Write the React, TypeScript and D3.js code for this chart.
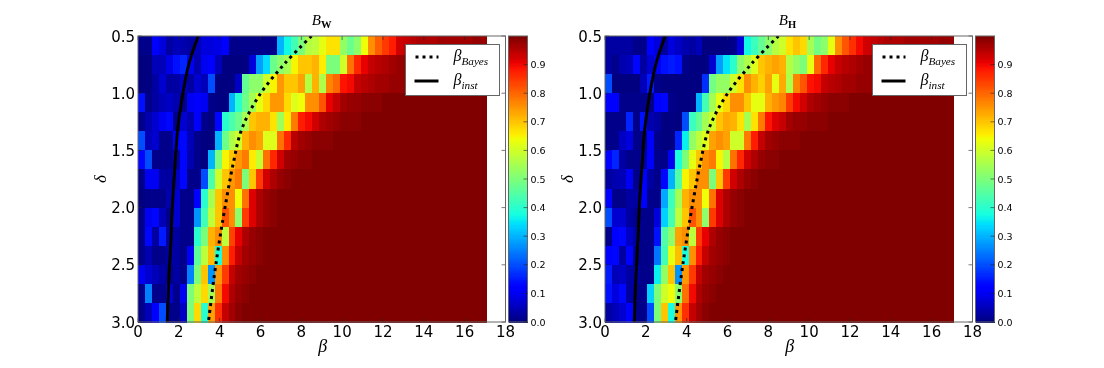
import React, { useEffect, useRef } from "react";
import * as d3 from "d3";

// cell values in percent, top row (delta = 0.5) first, 50 columns per row
const rowsW: number[][] = [
  [1,1,11,8,3,5,4,3,5,8, 8,9,12,1,1,1,1,1,1,1, 30,37,43,50,57,58,63,67,67,53, 48,52,64,76,81,85,88,93,94,95, 96,96,96,97,97,97,97,97,98,98],
  [0,0,5,5,9,14,16,10,4,10, 12,5,0,0,0,0,8,28,34,48, 52,55,65,70,70,72,66,50,50,60, 79,87,91,94,95,96,97,98,98,98, 99,99,99,99,99,99,100,100,100,100],
  [0,0,3,7,3,3,6,3,7,5, 20,0,0,0,6,47,52,52,60,65, 75,70,70,74,57,72,56,77,80,89, 90,94,95,96,97,97,98,98,98,99, 99,99,100,100,100,100,100,100,100,100],
  [14,1,3,5,6,4,1,10,11,10, 1,0,0,30,40,48,55,63,68,75, 75,68,62,64,76,76,82,91,94,97, 98,98,99,99,99,100,100,100,100,100, 100,100,100,100,100,100,100,100,100,100],
  [1,4,7,10,13,1,7,4,11,1, 0,13,40,44,48,55,70,72,72,67, 54,66,78,88,90,93,96,97,98,99, 99,99,100,100,100,100,100,100,100,100, 100,100,100,100,100,100,100,100,100,100],
  [20,5,7,1,1,11,13,5,1,0, 0,30,48,56,60,72,76,74,62,62, 79,87,95,97,98,99,99,99,100,100, 100,100,100,100,100,100,100,100,100,100, 100,100,100,100,100,100,100,100,100,100],
  [13,20,1,1,1,3,13,4,1,0, 30,50,65,70,75,78,66,59,79,87, 93,97,98,99,99,100,100,100,100,100, 100,100,100,100,100,100,100,100,100,100, 100,100,100,100,100,100,100,100,100,100],
  [1,10,10,3,3,6,13,1,1,20, 44,60,70,75,78,50,70,85,93,96, 98,99,100,100,100,100,100,100,100,100, 100,100,100,100,100,100,100,100,100,100, 100,100,100,100,100,100,100,100,100,100],
  [0,1,1,1,4,7,1,1,12,40, 55,70,76,76,64,79,92,96,98,99, 100,100,100,100,100,100,100,100,100,100, 100,100,100,100,100,100,100,100,100,100, 100,100,100,100,100,100,100,100,100,100],
  [1,10,13,5,1,7,1,1,27,43, 58,70,82,76,52,85,92,96,98,99, 100,100,100,100,100,100,100,100,100,100, 100,100,100,100,100,100,100,100,100,100, 100,100,100,100,100,100,100,100,100,100],
  [1,13,3,15,3,3,1,1,40,50, 72,76,58,84,91,96,98,99,100,100, 100,100,100,100,100,100,100,100,100,100, 100,100,100,100,100,100,100,100,100,100, 100,100,100,100,100,100,100,100,100,100],
  [1,4,1,1,3,3,1,10,46,58, 71,38,76,88,94,97,98,99,100,100, 100,100,100,100,100,100,100,100,100,100, 100,100,100,100,100,100,100,100,100,100, 100,100,100,100,100,100,100,100,100,100],
  [10,7,5,3,1,3,1,25,50,70, 27,75,85,94,97,98,99,100,100,100, 100,100,100,100,100,100,100,100,100,100, 100,100,100,100,100,100,100,100,100,100, 100,100,100,100,100,100,100,100,100,100],
  [1,25,1,1,7,1,10,50,58,68, 55,78,90,96,98,99,100,100,100,100, 100,100,100,100,100,100,100,100,100,100, 100,100,100,100,100,100,100,100,100,100, 100,100,100,100,100,100,100,100,100,100],
  [1,5,11,20,1,1,6,50,68,40, 74,86,94,97,99,100,100,100,100,100, 100,100,100,100,100,100,100,100,100,100, 100,100,100,100,100,100,100,100,100,100, 100,100,100,100,100,100,100,100,100,100],
];

const rowsH: number[][] = [
  [3,3,3,3,1,1,11,8,3,8, 6,4,3,5,0,0,0,0,1,8, 37,42,47,52,57,60,67,70,68,55, 49,52,63,76,82,86,90,93,94,95, 96,96,96,97,97,97,97,97,98,98],
  [3,1,4,5,13,3,7,10,14,15, 14,1,0,0,0,7,28,35,40,52, 56,62,70,72,74,72,57,53,50,63, 80,87,91,94,95,96,97,98,98,98, 99,99,99,99,99,99,100,100,100,100],
  [20,0,0,0,0,5,15,1,0,0, 0,0,0,0,17,49,53,53,60,67, 76,72,69,74,63,73,56,77,82,89, 90,94,95,96,97,97,98,98,98,99, 99,99,100,100,100,100,100,100,100,100],
  [11,11,1,1,1,1,1,11,13,1, 0,0,0,30,43,55,63,68,76,76, 70,63,63,72,75,77,85,90,93,96, 97,98,99,99,99,100,100,100,100,100, 100,100,100,100,100,100,100,100,100,100],
  [1,1,1,16,1,14,4,3,0,0, 0,20,42,47,55,60,70,73,72,67, 55,67,78,89,92,94,97,98,98,99, 99,99,100,100,100,100,100,100,100,100, 100,100,100,100,100,100,100,100,100,100],
  [1,1,6,8,1,1,12,1,0,0, 16,36,53,58,62,74,76,74,60,60, 78,88,94,97,98,99,99,99,100,100, 100,100,100,100,100,100,100,100,100,100, 100,100,100,100,100,100,100,100,100,100],
  [11,16,3,1,1,3,12,1,1,10, 38,50,63,70,76,78,65,57,79,87, 93,96,98,99,99,100,100,100,100,100, 100,100,100,100,100,100,100,100,100,100, 100,100,100,100,100,100,100,100,100,100],
  [3,4,5,10,1,11,3,1,13,30, 45,65,70,76,76,50,70,85,93,96, 98,99,100,100,100,100,100,100,100,100, 100,100,100,100,100,100,100,100,100,100, 100,100,100,100,100,100,100,100,100,100],
  [11,1,1,3,3,11,1,1,29,42, 55,72,76,76,64,79,92,96,98,99, 100,100,100,100,100,100,100,100,100,100, 100,100,100,100,100,100,100,100,100,100, 100,100,100,100,100,100,100,100,100,100],
  [20,7,7,3,1,1,1,8,33,43, 58,70,82,76,52,85,92,96,98,99, 100,100,100,100,100,100,100,100,100,100, 100,100,100,100,100,100,100,100,100,100, 100,100,100,100,100,100,100,100,100,100],
  [1,11,13,6,3,1,1,14,45,52, 74,76,58,85,91,96,98,99,100,100, 100,100,100,100,100,100,100,100,100,100, 100,100,100,100,100,100,100,100,100,100, 100,100,100,100,100,100,100,100,100,100],
  [12,13,3,11,1,1,1,24,43,63, 71,38,76,88,94,97,98,99,100,100, 100,100,100,100,100,100,100,100,100,100, 100,100,100,100,100,100,100,100,100,100, 100,100,100,100,100,100,100,100,100,100],
  [15,5,6,3,3,1,1,36,53,70, 27,75,85,94,97,98,99,100,100,100, 100,100,100,100,100,100,100,100,100,100, 100,100,100,100,100,100,100,100,100,100, 100,100,100,100,100,100,100,100,100,100],
  [14,8,13,3,1,1,33,50,60,64, 52,79,90,96,98,99,100,100,100,100, 100,100,100,100,100,100,100,100,100,100, 100,100,100,100,100,100,100,100,100,100, 100,100,100,100,100,100,100,100,100,100],
  [3,5,7,12,1,1,20,50,70,38, 75,86,94,97,99,100,100,100,100,100, 100,100,100,100,100,100,100,100,100,100, 100,100,100,100,100,100,100,100,100,100, 100,100,100,100,100,100,100,100,100,100],
];

// curves
const curveDelta = [0.5, 0.74, 1.03, 1.32, 1.61, 2.0, 2.3, 2.59, 3.0];
const betaInst = [2.95, 2.5, 2.17, 1.94, 1.82, 1.68, 1.61, 1.52, 1.43];
const bayesDelta = [0.5, 0.74, 1.03, 1.32, 1.61, 2.0, 2.3, 2.59, 3.0];
const betaBayes = [8.5, 7.19, 5.9, 5.07, 4.67, 4.26, 3.98, 3.74, 3.45];

const betaTicks = [0, 2, 4, 6, 8, 10, 12, 14, 16, 18];
const deltaTicks = [0.5, 1.0, 1.5, 2.0, 2.5, 3.0];
const barTicks = [0, 0.1, 0.2, 0.3, 0.4, 0.5, 0.6, 0.7, 0.8, 0.9];

const sans = "'DejaVu Sans', sans-serif";
const serif = "'Liberation Serif', serif";

// matplotlib jet
const jetR = d3.scaleLinear([0, 0.35, 0.66, 0.89, 1], [0, 0, 1, 1, 0.5]);
const jetG = d3.scaleLinear([0, 0.125, 0.375, 0.64, 0.91, 1], [0, 0, 1, 1, 0, 0]);
const jetB = d3.scaleLinear([0, 0.11, 0.34, 0.65, 1], [0.5, 1, 1, 0, 0]);
const jet = (v: number) =>
  d3.rgb(jetR(v) * 255, jetG(v) * 255, jetB(v) * 255).formatRgb();

const mathLabel = (
  g: any,
  x: number,
  y: number,
  sym: string,
  sub: string,
  size: number,
  subBold: boolean
) => {
  const t = g
    .append("text")
    .attr("x", x)
    .attr("y", y)
    .attr("font-family", serif)
    .attr("font-size", size)
    .attr("font-style", "italic")
    .attr("fill", "#000");
  t.append("tspan").text(sym);
  t.append("tspan")
    .attr("dy", size * 0.22)
    .attr("font-size", size * 0.7)
    .attr("font-weight", subBold ? "bold" : "normal")
    .attr("font-style", subBold ? "normal" : "italic")
    .text(sub);
  return t;
};

const drawPanel = (svg: any, rows: number[][], left: number, titleSub: string, id: string) => {
  const top = 36;
  const bottom = 322;
  const axW = 367.5;
  const x = d3.scaleLinear().domain([0, 18]).range([left, left + axW]);
  const y = d3.scaleLinear().domain([0.5, 3]).range([top, bottom]);
  const colX = d3.scaleBand<number>().domain(d3.range(50)).range([x(0), x(17.05)]);
  const rowY = d3.scaleBand<number>().domain(d3.range(15)).range([top, bottom]);

  const g = svg.append("g");

  g.append("clipPath")
    .attr("id", id)
    .append("rect")
    .attr("x", left)
    .attr("y", top)
    .attr("width", axW)
    .attr("height", bottom - top);

  rows.forEach((row, r) => {
    g.append("g")
      .attr("shape-rendering", "crispEdges")
      .selectAll("rect")
      .data(row)
      .enter()
      .append("rect")
      .attr("x", (_: number, c: number) => colX(c))
      .attr("y", rowY(r))
      .attr("width", colX.bandwidth() + 0.5)
      .attr("height", rowY.bandwidth() + 0.5)
      .attr("fill", (d: number) => jet(d / 100));
  });

  const lineBayes = d3
    .line<number>()
    .x((d) => x(d))
    .y((_, i) => y(bayesDelta[i]))
    .curve(d3.curveCatmullRom);
  const lineInst = d3
    .line<number>()
    .x((d) => x(d))
    .y((_, i) => y(curveDelta[i]))
    .curve(d3.curveCatmullRom);

  g.append("path")
    .attr("d", lineBayes(betaBayes))
    .attr("fill", "none")
    .attr("stroke", "#000")
    .attr("stroke-width", 3)
    .attr("stroke-dasharray", "3 4")
    .attr("clip-path", `url(#${id})`);
  g.append("path")
    .attr("d", lineInst(betaInst))
    .attr("fill", "none")
    .attr("stroke", "#000")
    .attr("stroke-width", 3)
    .attr("clip-path", `url(#${id})`);

  // ticks point inward on all four sides
  const tickColor = "#222";
  g.selectAll("line.tb")
    .data(betaTicks)
    .enter()
    .append("path")
    .attr("d", (d: number) => `M${x(d)},${bottom}v-4M${x(d)},${top}v4`)
    .attr("stroke", tickColor)
    .attr("stroke-width", 0.6);
  g.selectAll("line.lr")
    .data(deltaTicks)
    .enter()
    .append("path")
    .attr("d", (d: number) => `M${left},${y(d)}h4M${left + axW},${y(d)}h-4`)
    .attr("stroke", tickColor)
    .attr("stroke-width", 0.6);

  g.append("rect")
    .attr("x", left)
    .attr("y", top)
    .attr("width", axW)
    .attr("height", bottom - top)
    .attr("fill", "none")
    .attr("stroke", "#666")
    .attr("stroke-width", 1);

  g.selectAll("text.xt")
    .data(betaTicks)
    .enter()
    .append("text")
    .attr("x", (d: number) => x(d))
    .attr("y", 337)
    .attr("text-anchor", "middle")
    .attr("font-family", sans)
    .attr("font-size", 15)
    .attr("fill", "#000")
    .text((d: number) => d);
  g.selectAll("text.yt")
    .data(deltaTicks)
    .enter()
    .append("text")
    .attr("x", left - 3)
    .attr("y", (d: number) => y(d) + 5.5)
    .attr("text-anchor", "end")
    .attr("font-family", sans)
    .attr("font-size", 15)
    .attr("fill", "#000")
    .text((d: number) => d.toFixed(1));

  // labels
  mathLabel(g, left + axW / 2 - 10, 25, "B", titleSub, 15, true);
  g.append("text")
    .attr("x", left + axW / 2 + 1)
    .attr("y", 352)
    .attr("text-anchor", "middle")
    .attr("font-family", serif)
    .attr("font-style", "italic")
    .attr("font-size", 18)
    .attr("fill", "#000")
    .text("β");
  g.append("text")
    .attr("transform", `translate(${left - 32},${(top + bottom) / 2}) rotate(-90)`)
    .attr("text-anchor", "middle")
    .attr("font-family", serif)
    .attr("font-style", "italic")
    .attr("font-size", 17)
    .attr("fill", "#000")
    .text("δ");

  // legend
  const lx = left + 267.5;
  g.append("rect")
    .attr("x", lx)
    .attr("y", 44.5)
    .attr("width", 94)
    .attr("height", 51)
    .attr("fill", "#fff")
    .attr("stroke", "#666")
    .attr("stroke-width", 1);
  g.append("line")
    .attr("x1", lx + 10)
    .attr("x2", lx + 33)
    .attr("y1", 57)
    .attr("y2", 57)
    .attr("stroke", "#000")
    .attr("stroke-width", 3)
    .attr("stroke-dasharray", "3 4");
  g.append("line")
    .attr("x1", lx + 9)
    .attr("x2", lx + 33)
    .attr("y1", 81)
    .attr("y2", 81)
    .attr("stroke", "#000")
    .attr("stroke-width", 3);
  mathLabel(g, lx + 48, 61, "β", "Bayes", 16, false);
  mathLabel(g, lx + 48, 85, "β", "inst", 16, false);

  // colorbar
  const barLeft = left + axW + 3;
  const barW = 19;
  const v = d3.scaleLinear().domain([0, 1]).range([bottom, top]);
  const steps = d3.range(256);
  g.append("g")
    .attr("shape-rendering", "crispEdges")
    .selectAll("rect")
    .data(steps)
    .enter()
    .append("rect")
    .attr("x", barLeft)
    .attr("width", barW)
    .attr("y", (d: number) => v((d + 1) / 256))
    .attr("height", (bottom - top) / 256 + 0.5)
    .attr("fill", (d: number) => jet(d / 255));
  g.append("rect")
    .attr("x", barLeft)
    .attr("y", top)
    .attr("width", barW)
    .attr("height", bottom - top)
    .attr("fill", "none")
    .attr("stroke", "#666")
    .attr("stroke-width", 1);
  g.selectAll("path.bt")
    .data(barTicks)
    .enter()
    .append("path")
    .attr("d", (d: number) => `M${barLeft + barW},${v(d)}h-4`)
    .attr("stroke", tickColor)
    .attr("stroke-width", 0.6);
  g.selectAll("text.bt")
    .data(barTicks)
    .enter()
    .append("text")
    .attr("x", barLeft + barW + 3)
    .attr("y", (d: number) => v(d) + 3.5)
    .attr("font-family", sans)
    .attr("font-size", 9.5)
    .attr("fill", "#000")
    .text((d: number) => d.toFixed(1));
};

export default function App() {
  const ref = useRef<SVGSVGElement>(null);

  useEffect(() => {
    const svg = d3.select(ref.current);
    svg.selectAll("*").remove();
    drawPanel(svg, rowsW, 138, "W", "clipW");
    drawPanel(svg, rowsH, 605, "H", "clipH");
  }, []);

  return (
    <svg
      ref={ref}
      width={1104}
      height={368}
      style={{ position: "absolute", left: 0, top: 0, background: "#fff", filter: "blur(0.35px)" }}
    />
  );
}
